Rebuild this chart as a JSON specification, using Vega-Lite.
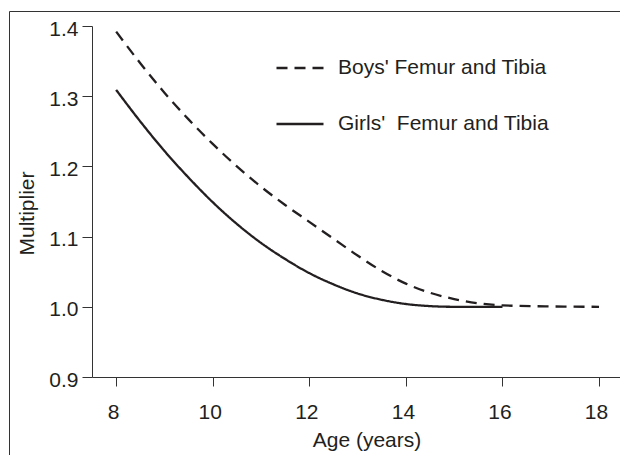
{
  "$schema": "https://vega.github.io/schema/vega-lite/v6.json",
  "width": 611,
  "height": 444,
  "autosize": {"type": "none"},
  "padding": {"left": 9, "top": 11, "right": 0, "bottom": 0},
  "background": "white",
  "config": {
    "view": {"stroke": "#333333", "strokeWidth": 1},
    "font": "Liberation Sans"
  },
  "data": {
    "values": [
      {"age": 8, "value": 1.392, "series": "Boys' Femur and Tibia"},
      {"age": 8.5, "value": 1.347, "series": "Boys' Femur and Tibia"},
      {"age": 9, "value": 1.305, "series": "Boys' Femur and Tibia"},
      {"age": 9.5, "value": 1.267, "series": "Boys' Femur and Tibia"},
      {"age": 10, "value": 1.232, "series": "Boys' Femur and Tibia"},
      {"age": 10.5, "value": 1.200, "series": "Boys' Femur and Tibia"},
      {"age": 11, "value": 1.171, "series": "Boys' Femur and Tibia"},
      {"age": 11.5, "value": 1.145, "series": "Boys' Femur and Tibia"},
      {"age": 12, "value": 1.121, "series": "Boys' Femur and Tibia"},
      {"age": 12.5, "value": 1.097, "series": "Boys' Femur and Tibia"},
      {"age": 13, "value": 1.073, "series": "Boys' Femur and Tibia"},
      {"age": 13.5, "value": 1.051, "series": "Boys' Femur and Tibia"},
      {"age": 14, "value": 1.033, "series": "Boys' Femur and Tibia"},
      {"age": 14.5, "value": 1.020, "series": "Boys' Femur and Tibia"},
      {"age": 15, "value": 1.011, "series": "Boys' Femur and Tibia"},
      {"age": 15.5, "value": 1.005, "series": "Boys' Femur and Tibia"},
      {"age": 16, "value": 1.002, "series": "Boys' Femur and Tibia"},
      {"age": 17, "value": 1.0005, "series": "Boys' Femur and Tibia"},
      {"age": 18, "value": 1.000, "series": "Boys' Femur and Tibia"},
      {"age": 8, "value": 1.309, "series": "Girls'  Femur and Tibia"},
      {"age": 8.5, "value": 1.264, "series": "Girls'  Femur and Tibia"},
      {"age": 9, "value": 1.222, "series": "Girls'  Femur and Tibia"},
      {"age": 9.5, "value": 1.184, "series": "Girls'  Femur and Tibia"},
      {"age": 10, "value": 1.149, "series": "Girls'  Femur and Tibia"},
      {"age": 10.5, "value": 1.118, "series": "Girls'  Femur and Tibia"},
      {"age": 11, "value": 1.091, "series": "Girls'  Femur and Tibia"},
      {"age": 11.5, "value": 1.068, "series": "Girls'  Femur and Tibia"},
      {"age": 12, "value": 1.048, "series": "Girls'  Femur and Tibia"},
      {"age": 12.5, "value": 1.032, "series": "Girls'  Femur and Tibia"},
      {"age": 13, "value": 1.019, "series": "Girls'  Femur and Tibia"},
      {"age": 13.5, "value": 1.010, "series": "Girls'  Femur and Tibia"},
      {"age": 14, "value": 1.004, "series": "Girls'  Femur and Tibia"},
      {"age": 14.5, "value": 1.001, "series": "Girls'  Femur and Tibia"},
      {"age": 15, "value": 1.000, "series": "Girls'  Femur and Tibia"},
      {"age": 15.5, "value": 1.000, "series": "Girls'  Femur and Tibia"},
      {"age": 16, "value": 1.000, "series": "Girls'  Femur and Tibia"}
    ]
  },
  "mark": {"type": "line", "interpolate": "monotone", "strokeWidth": 2.3, "color": "#231f20"},
  "encoding": {
    "x": {
      "field": "age",
      "type": "quantitative",
      "scale": {"domain": [7.5, 18.434], "range": [83, 611], "nice": false, "zero": false},
      "axis": {
        "title": "Age (years)",
        "values": [8, 10, 12, 14, 16, 18],
        "format": "d",
        "offset": -78,
        "grid": false,
        "domainColor": "#333333",
        "domainWidth": 1,
        "tickColor": "#333333",
        "tickWidth": 1,
        "tickSize": 9,
        "labelFont": "Liberation Sans",
        "labelFontSize": 21,
        "labelColor": "#231f20",
        "labelPadding": 15,
        "labelOffset": -3,
        "labelFlush": false,
        "labelOverlap": false,
        "titleFont": "Liberation Sans",
        "titleFontSize": 21,
        "titleFontWeight": "normal",
        "titleColor": "#231f20",
        "titleX": 357.5,
        "titleY": 52,
        "titleBaseline": "top"
      }
    },
    "y": {
      "field": "value",
      "type": "quantitative",
      "scale": {"domain": [0.9, 1.4], "range": [366, 15], "nice": false, "zero": false},
      "axis": {
        "title": "Multiplier",
        "values": [0.9, 1.0, 1.1, 1.2, 1.3, 1.4],
        "format": ".1f",
        "offset": -83,
        "grid": false,
        "domainColor": "#333333",
        "domainWidth": 1,
        "tickColor": "#333333",
        "tickWidth": 1,
        "tickSize": 10,
        "labelFont": "Liberation Sans",
        "labelFontSize": 21,
        "labelColor": "#231f20",
        "labelPadding": 4,
        "labelOffset": 3,
        "labelFlush": false,
        "labelOverlap": false,
        "titleFont": "Liberation Sans",
        "titleFontSize": 21,
        "titleFontWeight": "normal",
        "titleColor": "#231f20",
        "titleX": -54.5,
        "titleY": 202,
        "titleBaseline": "bottom"
      }
    },
    "strokeDash": {
      "field": "series",
      "type": "nominal",
      "scale": {
        "domain": ["Boys' Femur and Tibia", "Girls'  Femur and Tibia"],
        "range": [[11, 7], [1, 0]]
      },
      "legend": {
        "orient": "none",
        "legendX": 266,
        "legendY": 32,
        "title": null,
        "symbolType": "stroke",
        "symbolSize": 2209,
        "symbolStrokeWidth": 2.3,
        "symbolStrokeColor": "#231f20",
        "labelFont": "Liberation Sans",
        "labelFontSize": 21,
        "labelColor": "#231f20",
        "labelOffset": 13,
        "labelLimit": 400,
        "rowPadding": 21,
        "labelExpr": "replace(datum.label, '  ', '\u00a0 ')"
      }
    }
  }
}
